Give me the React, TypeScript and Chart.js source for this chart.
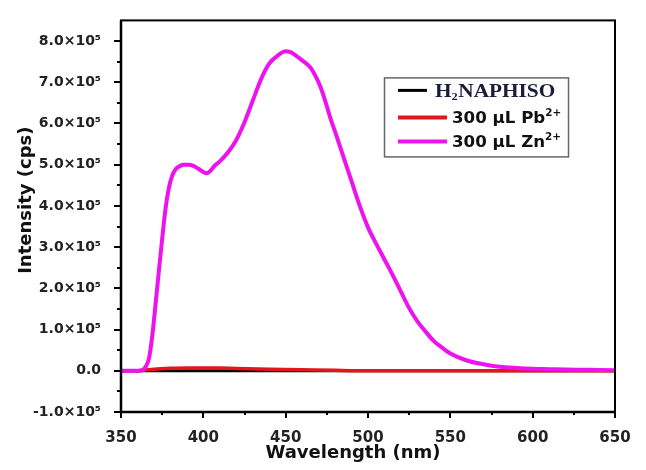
import React, { useEffect, useRef } from "react";
import { Chart, registerables } from "chart.js";

Chart.register(...registerables);

// Emission spectra, intensity in units of 10^5 cps
const WL_ZN = [350, 355, 360, 363, 365, 367, 369, 371, 373, 375, 377, 379, 381, 383, 385, 388, 391, 394, 397, 400, 402, 404, 407, 410, 415, 420, 425, 430, 435, 440, 445, 450, 453, 456, 460, 465, 468, 471, 474, 477, 480, 485, 490, 495, 500, 505, 510, 515, 520, 525, 530, 535, 540, 545, 550, 560, 570, 580, 590, 600, 610, 620, 630, 640, 650];
const ZN = [0, 0, 0, 0.02, 0.1, 0.3, 0.85, 1.62, 2.42, 3.2, 3.92, 4.42, 4.72, 4.88, 4.95, 5.0, 5.0, 4.97, 4.9, 4.82, 4.79, 4.84, 4.98, 5.08, 5.3, 5.6, 6.03, 6.55, 7.07, 7.45, 7.64, 7.75, 7.73, 7.65, 7.53, 7.36, 7.16, 6.9, 6.55, 6.15, 5.8, 5.2, 4.6, 4.0, 3.48, 3.08, 2.7, 2.32, 1.92, 1.52, 1.2, 0.95, 0.72, 0.56, 0.42, 0.25, 0.16, 0.1, 0.07, 0.05, 0.04, 0.03, 0.025, 0.02, 0.015];

const WL_PB = [350, 360, 365, 370, 380, 390, 400, 410, 420, 440, 460, 480, 500, 550, 600, 650];
const PB = [0, 0, 0.02, 0.04, 0.06, 0.07, 0.07, 0.065, 0.055, 0.04, 0.025, 0.01, 0, 0, 0, 0];

const WL_H2 = [350, 400, 450, 500, 550, 600, 650];
const H2 = [0, 0, 0, 0, 0, 0, 0];

const X_MIN = 350;
const X_MAX = 650;
const X_STEP = 50;
const Y_MIN = -1;
const Y_MAX = 8.5;
const Y_STEP = 1;

const X_TITLE = "Wavelength (nm)";
const Y_TITLE = "Intensity (cps)";

type Part = { t: string; k?: "sub" | "sup" };
const LEGEND_LABELS: Part[][] = [
  [{ t: "H" }, { t: "2", k: "sub" }, { t: "NAPHISO" }],
  [{ t: "300 µL Pb" }, { t: "2+", k: "sup" }],
  [{ t: "300 µL Zn" }, { t: "2+", k: "sup" }],
];
const COLORS = ["#000000", "#e3161b", "#ee12ee"];

const fmtY = (v: number) => (Math.abs(v) < 1e-9 ? "0.0" : `${v.toFixed(1)}×10⁵`);

const decorPlugin = {
  id: "decor",
  afterDatasetsDraw(chart: any) {
    const { ctx, chartArea: a, scales } = chart;
    const xs = scales.x;
    const ys = scales.y;
    ctx.save();
    ctx.strokeStyle = "#000";
    ctx.lineWidth = 2;
    ctx.lineCap = "butt";
    // frame
    ctx.strokeRect(a.left, a.top, a.right - a.left, a.bottom - a.top);
    ctx.lineWidth = 2.5;
    ctx.beginPath();
    ctx.moveTo(a.left, a.top);
    ctx.lineTo(a.left, a.bottom);
    ctx.lineTo(a.right, a.bottom);
    ctx.stroke();
    // y ticks
    ctx.lineWidth = 2;
    for (let v = Y_MIN; v <= Y_MAX + 1e-9; v += Y_STEP / 2) {
      const major = Math.abs(v - Math.round(v)) < 1e-9;
      if (!major && v > Y_MAX - 0.6) continue;
      const py = Math.round(ys.getPixelForValue(v));
      ctx.beginPath();
      ctx.moveTo(a.left - (major ? 7 : 4), py);
      ctx.lineTo(a.left, py);
      ctx.stroke();
    }
    // x ticks
    for (let v = X_MIN; v <= X_MAX + 1e-9; v += X_STEP / 2) {
      const major = Math.abs((v - X_MIN) % X_STEP) < 1e-9;
      const px = Math.round(xs.getPixelForValue(v));
      ctx.beginPath();
      ctx.moveTo(px, a.bottom);
      ctx.lineTo(px, a.bottom + (major ? 6 : 3));
      ctx.stroke();
    }
    ctx.restore();
  },
  afterDraw(chart: any) {
    const { ctx, chartArea: a } = chart;
    ctx.save();
    // axis titles
    ctx.fillStyle = "#111";
    ctx.font = "bold 18px 'DejaVu Sans'";
    ctx.textAlign = "center";
    ctx.textBaseline = "alphabetic";
    ctx.fillText(X_TITLE, (a.left + a.right) / 2 - 15, a.bottom + 46);
    ctx.save();
    ctx.translate(31, (a.top + a.bottom) / 2 - 16);
    ctx.rotate(-Math.PI / 2);
    ctx.fillText(Y_TITLE, 0, 0);
    ctx.restore();

    // legend
    const x0 = a.right - 231;
    const y0 = a.top + 57;
    ctx.strokeStyle = "#666";
    ctx.lineWidth = 1.5;
    ctx.strokeRect(x0 + 0.5, y0 + 0.5, 184, 79);
    const rowsY = [13, 40, 64];
    const lineEnd = [43, 63, 63];
    const textX = [51, 68, 68];
    LEGEND_LABELS.forEach((parts, i) => {
      const ly = y0 + rowsY[i];
      ctx.strokeStyle = COLORS[i];
      ctx.lineWidth = i === 0 ? 3 : 4;
      ctx.beginPath();
      ctx.moveTo(x0 + 14, ly);
      ctx.lineTo(x0 + lineEnd[i], ly);
      ctx.stroke();
      const serif = i === 0;
      const base = serif ? 19 : 16;
      const fam = serif ? "'Liberation Serif'" : "'DejaVu Sans'";
      const stretch = serif ? 1.12 : 1.04;
      ctx.save();
      ctx.translate(x0 + textX[i], ly + (serif ? 7 : 6));
      ctx.scale(stretch, 1);
      ctx.textAlign = "left";
      ctx.textBaseline = "alphabetic";
      ctx.fillStyle = serif ? "#1c1c3a" : "#111";
      let cx = 0;
      parts.forEach((p) => {
        const size = p.k ? Math.round(base * 0.6) : base;
        ctx.font = `bold ${size}px ${fam}`;
        const dy = p.k === "sub" ? 3 : p.k === "sup" ? -7 : 0;
        ctx.fillText(p.t, cx, dy);
        cx += ctx.measureText(p.t).width + (p.k ? 0.5 : 0);
      });
      ctx.restore();
    });
    ctx.restore();
  },
};

export default function App() {
  const ref = useRef<HTMLCanvasElement>(null);
  useEffect(() => {
    const canvas = ref.current;
    if (!canvas) return;
    const pts = (xs: number[], ys: number[]) => xs.map((x, i) => ({ x, y: ys[i] }));
    const chart = new Chart(canvas, {
      type: "line",
      data: {
        datasets: [
          {
            label: "H2NAPHISO",
            data: pts(WL_H2, H2),
            borderColor: COLORS[0],
            borderWidth: 3,
            pointRadius: 0,
            order: 3,
          },
          {
            label: "300 µL Pb2+",
            data: pts(WL_PB, PB),
            borderColor: COLORS[1],
            borderWidth: 3.5,
            pointRadius: 0,
            cubicInterpolationMode: "monotone",
            order: 2,
          },
          {
            label: "300 µL Zn2+",
            data: pts(WL_ZN, ZN),
            borderColor: COLORS[2],
            borderWidth: 4,
            pointRadius: 0,
            cubicInterpolationMode: "monotone",
            order: 1,
          },
        ],
      },
      options: {
        responsive: false,
        animation: false,
        devicePixelRatio: 1,
        layout: { padding: { left: 0, right: 31, top: 12, bottom: 0 } },
        plugins: { legend: { display: false }, tooltip: { enabled: false } },
        scales: {
          x: {
            type: "linear",
            min: X_MIN,
            max: X_MAX,
            grid: { display: false },
            border: { display: false },
            afterFit: (s: any) => {
              s.height = 58;
            },
            ticks: {
              stepSize: X_STEP,
              autoSkip: false,
              maxRotation: 0,
              padding: 9,
              color: "#222",
              font: { family: "'DejaVu Sans'", weight: "bold", size: 15 },
            },
          },
          y: {
            type: "linear",
            min: Y_MIN,
            max: Y_MAX,
            grid: { display: false },
            border: { display: false },
            afterFit: (s: any) => {
              s.width = 121;
            },
            afterBuildTicks: (s: any) => {
              s.ticks = s.ticks.filter((t: any) => Math.abs(t.value - Math.round(t.value)) < 1e-9);
            },
            ticks: {
              stepSize: Y_STEP,
              autoSkip: false,
              padding: 12,
              color: "#222",
              font: { family: "'DejaVu Sans'", weight: "bold", size: 14 },
              callback: (v: any) => fmtY(Number(v)),
            },
          },
        },
      },
      plugins: [decorPlugin],
    } as any);
    return () => chart.destroy();
  }, []);
  return (
    <div style={{ position: "absolute", left: 0, top: 0, width: 646, height: 470, background: "#fff" }}>
      <canvas ref={ref} width={646} height={470} style={{ display: "block" }} />
    </div>
  );
}
